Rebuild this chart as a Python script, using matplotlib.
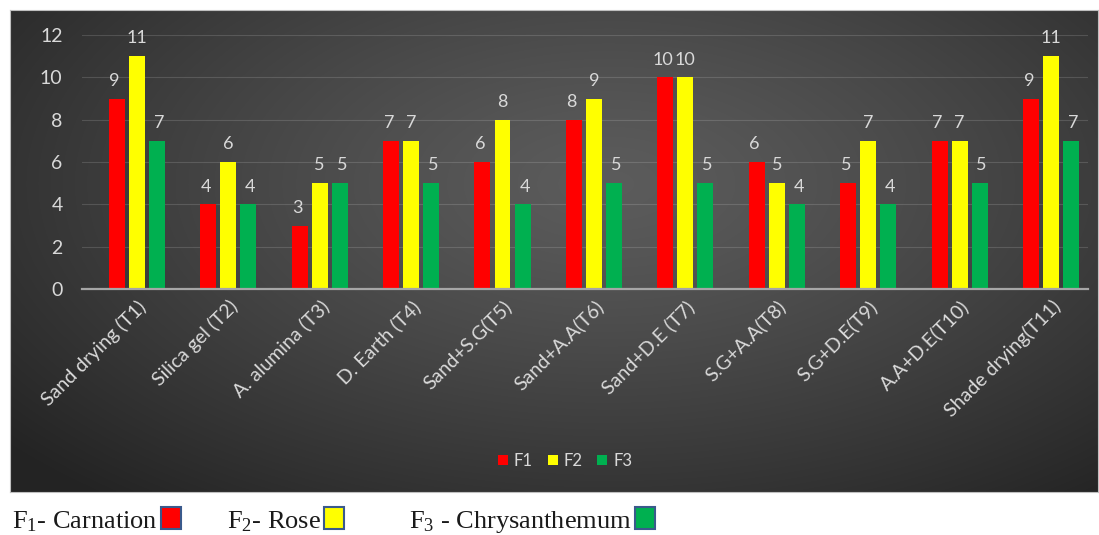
import numpy as np
import matplotlib
matplotlib.use("Agg")
import matplotlib.pyplot as plt
from matplotlib.patches import Rectangle

plt.rcParams['font.family'] = ['Lato', 'DejaVu Sans']
plt.rcParams['mathtext.fontset'] = 'custom'
plt.rcParams['mathtext.rm'] = 'Liberation Serif'
plt.rcParams['mathtext.it'] = 'Liberation Serif:italic'

# Drying treatments and scores for the three flowers
treatments = ["Sand drying (T1)", "Silica gel (T2)", "A. alumina (T3)", "D. Earth (T4)",
              "Sand+S.G(T5)", "Sand+A.A(T6)", "Sand+D.E (T7)", "S.G+A.A(T8)",
              "S.G+D.E(T9)", "A.A+D.E(T10)", "Shade drying(T11)"]
f1 = [9, 4, 3, 7, 6, 8, 10, 6, 5, 7, 9]
f2 = [11, 6, 5, 7, 8, 9, 10, 5, 7, 7, 11]
f3 = [7, 4, 5, 5, 4, 5, 5, 4, 4, 5, 7]
series_names = ["F1", "F2", "F3"]
series_colors = ["#FF0000", "#FFFF00", "#00B050"]
y_ticks = [0, 2, 4, 6, 8, 10, 12]
footnote = [r"F$_1$- Carnation", r"F$_2$- Rose", r"F$_3$ - Chrysanthemum"]

W, H = 1099, 535
fig = plt.figure(figsize=(W / 100, H / 100), dpi=100)
fig.patch.set_facecolor("white")

def fx(px):
    return px / W

def fy(py):
    return 1 - py / H

# Dark panel with a radial gradient
px0, py0, px1, py1 = 10, 10, 1098, 492
bg = fig.add_axes([fx(px0), fy(py1), fx(px1 - px0), (py1 - py0) / H])
gx, gy = np.meshgrid(np.linspace(0, 1, 400), np.linspace(0, 1, 200))
d = np.sqrt(((gx - 0.55) / 0.72) ** 2 + ((gy - 0.36) / 0.85) ** 2)
d = np.clip(d, 0, 1)
c_center, c_edge = 0.36, 0.14
val = c_center + (c_edge - c_center) * d ** 1.25
bg.imshow(np.dstack([val, val, val]), aspect="auto", extent=[0, 1, 0, 1],
          origin="upper", interpolation="bilinear")
bg.set_xlim(0, 1)
bg.set_ylim(0, 1)
bg.set_xticks([])
bg.set_yticks([])
for s in bg.spines.values():
    s.set_color("#bfbfbf")
    s.set_linewidth(0.8)

# Plot area
ax_l, ax_r, ax_t, ax_b = 82, 1088, 35, 289
ax = fig.add_axes([fx(ax_l), fy(ax_b), fx(ax_r - ax_l), (ax_b - ax_t) / H])
ax.set_facecolor("none")
ax.set_ylim(0, 12)
ax.set_xlim(-0.60, 10.405)

x = np.arange(len(treatments))
bw = 0.175
step = 0.219
txt_col = "#d9d9d9"
for i, (vals, col, name) in enumerate(zip([f1, f2, f3], series_colors, series_names)):
    pos = x + (i - 1) * step
    bars = ax.bar(pos, vals, width=bw, color=col, label=name, zorder=3)
    for b, v in zip(bars, vals):
        # labels spread slightly outward so neighbouring two-digit values stay apart
        ax.annotate(f"{v}", (b.get_x() + b.get_width() / 2, v),
                    xytext=((i - 1) * 1.5, 7),
                    textcoords="offset points", ha="center", va="bottom",
                    color=txt_col, fontsize=13)

ax.set_yticks(y_ticks)
ax.set_yticklabels([str(t) for t in y_ticks], color=txt_col, fontsize=14)
ax.tick_params(axis="y", length=0, pad=14)
ax.grid(axis="y", color="#ffffff", alpha=0.14, linewidth=0.8, zorder=0)
ax.set_xticks(x)
ax.set_xticklabels(treatments, rotation=45, ha="right", rotation_mode="anchor",
                   color=txt_col, fontsize=14)
ax.tick_params(axis="x", length=0, pad=6)
for k in ["top", "right", "left"]:
    ax.spines[k].set_visible(False)
ax.spines["bottom"].set_color("#a6a6a6")
ax.spines["bottom"].set_linewidth(1.6)
ax.spines["bottom"].set_zorder(4)

leg = fig.legend(loc="center", bbox_to_anchor=(fx(565), fy(461)), ncol=3,
                 frameon=False, fontsize=12, handlelength=0.6, handleheight=0.6,
                 handletextpad=0.35, columnspacing=0.9)
for t in leg.get_texts():
    t.set_color(txt_col)

# Footnote below the panel
note_x = [12, 227, 409]
box_x = [161, 324, 635]
for t, tx, bx, col in zip(footnote, note_x, box_x, series_colors):
    fig.text(fx(tx), fy(528), t, fontsize=19, family="Liberation Serif",
             color="#1a1a1a", ha="left", va="baseline")
    fig.patches.append(Rectangle((fx(bx), fy(529)), fx(20), 22 / H,
                                 transform=fig.transFigure, facecolor=col,
                                 edgecolor="#3a5a8c", linewidth=1.5))

fig.savefig("out.png", dpi=100)
